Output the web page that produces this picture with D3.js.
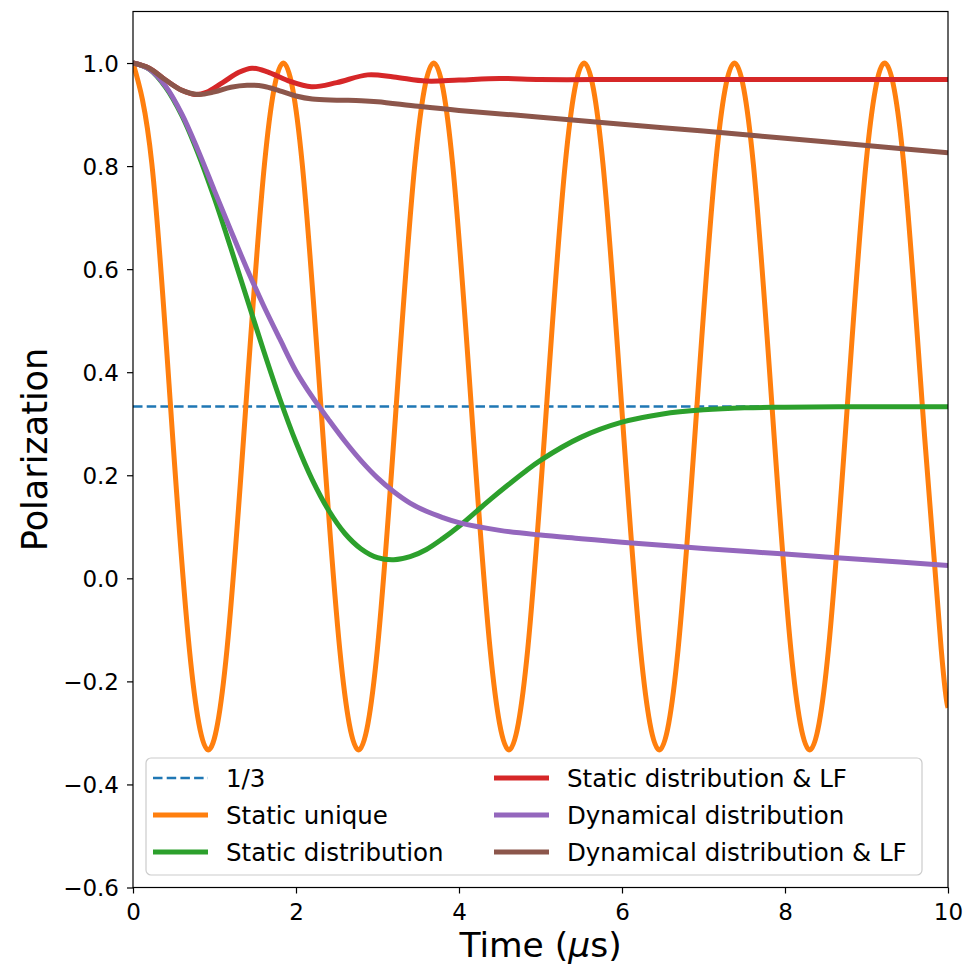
<!DOCTYPE html>
<html>
<head>
<meta charset="utf-8">
<script src="https://cdn.jsdelivr.net/npm/d3@7"></script>
<style>
  body { margin: 0; background: #fff; }
  text { font-family: "DejaVu Sans", sans-serif; fill: #000; }
</style>
</head>
<body>
<svg id="chart" width="965" height="965"></svg>
<script>
// Muon polarization curves, time in microseconds
const thirdLevel = 1 / 3;

const staticUniqueT = [
  0.000, 0.231, 0.461, 0.692, 0.923, 1.153, 1.384, 1.614,
  1.845, 2.076, 2.306, 2.537, 2.768, 2.998, 3.229, 3.459,
  3.690, 3.921, 4.151, 4.382, 4.613, 4.843, 5.074, 5.304,
  5.535, 5.766, 5.996, 6.227, 6.458, 6.688, 6.919, 7.149,
  7.380, 7.611, 7.841, 8.072, 8.303, 8.533, 8.764, 8.994,
  9.225, 9.456, 9.686, 9.917, 10.000
];
const staticUniqueP = [
  1.000, 0.805, 0.333, -0.138, -0.333, -0.138, 0.333, 0.805,
  1.000, 0.805, 0.333, -0.138, -0.333, -0.138, 0.333, 0.805,
  1.000, 0.805, 0.333, -0.138, -0.333, -0.138, 0.333, 0.805,
  1.000, 0.805, 0.333, -0.138, -0.333, -0.138, 0.333, 0.805,
  1.000, 0.805, 0.333, -0.138, -0.333, -0.138, 0.333, 0.805,
  1.000, 0.805, 0.333, -0.138, -0.251
];

const staticDistT = [
  0.0, 0.2, 0.4, 0.6, 0.8, 1.0, 1.2, 1.4, 1.6, 1.8, 2.0, 2.2, 2.4,
  2.6, 2.8, 3.0, 3.2, 3.4, 3.6, 3.8, 4.0, 4.2, 4.4, 4.6, 4.8, 5.0,
  5.5, 6.0, 6.5, 7.0, 7.5, 8.0, 9.0, 10.0
];
const staticDistP = [
  1.000, 0.988, 0.953, 0.898, 0.824, 0.737, 0.641, 0.542, 0.443, 0.349, 0.264, 0.191, 0.132,
  0.087, 0.057, 0.040, 0.036, 0.042, 0.056, 0.077, 0.101, 0.128, 0.155, 0.181, 0.206, 0.229,
  0.274, 0.303, 0.319, 0.327, 0.331, 0.332, 0.333, 0.333
];

const staticLFT = [
  0.0, 0.2, 0.4, 0.6, 0.76, 0.9, 1.1, 1.3, 1.46, 1.65, 1.9, 2.19,
  2.5, 2.88, 3.2, 3.6, 4.0, 4.5, 5.0, 6.0, 7.0, 8.0, 9.0, 10.0
];
const staticLFP = [
  1.000, 0.990, 0.967, 0.947, 0.939, 0.943, 0.962, 0.982, 0.990, 0.983, 0.966, 0.954,
  0.962, 0.977, 0.973, 0.965, 0.967, 0.970, 0.968, 0.968, 0.968, 0.968, 0.968, 0.968
];

const dynDistT = [
  0.0, 0.2, 0.4, 0.6, 0.8, 1.0, 1.2, 1.4, 1.6, 1.8, 2.0, 2.2, 2.4, 2.6, 2.8,
  3.0, 3.2, 3.4, 3.6, 3.8, 4.0, 4.5, 5.0, 5.5, 6.0, 7.0, 8.0, 9.0, 10.0
];
const dynDistP = [
  1.000, 0.988, 0.955, 0.901, 0.830, 0.752, 0.675, 0.600, 0.530, 0.465, 0.402, 0.352, 0.308, 0.266, 0.228,
  0.195, 0.168, 0.146, 0.130, 0.118, 0.108, 0.093, 0.084, 0.077, 0.070, 0.058, 0.047, 0.036, 0.025
];

const dynLFT = [
  0.0, 0.2, 0.4, 0.6, 0.8, 1.0, 1.2, 1.4, 1.6, 1.8, 2.0, 2.2,
  2.5, 2.8, 3.0, 3.5, 4.0, 5.0, 6.0, 7.0, 8.0, 9.0, 10.0
];
const dynLFP = [
  1.000, 0.990, 0.967, 0.947, 0.939, 0.944, 0.953, 0.957, 0.955, 0.946, 0.936, 0.930,
  0.928, 0.927, 0.925, 0.916, 0.908, 0.895, 0.881, 0.868, 0.854, 0.840, 0.826
];

const xTicks = [0, 2, 4, 6, 8, 10];
const yTicks = [-0.6, -0.4, -0.2, 0.0, 0.2, 0.4, 0.6, 0.8, 1.0];

const legendLabels = [
  "1/3", "Static unique", "Static distribution",
  "Static distribution & LF", "Dynamical distribution", "Dynamical distribution & LF"
];
const seriesColors = ["#1f77b4", "#ff7f0e", "#2ca02c", "#d62728", "#9467bd", "#8c564b"];

// ---- layout ----
const svg = d3.select("#chart");
const plot = { left: 133, right: 948, top: 11.5, bottom: 887.5 };

const x = d3.scaleLinear().domain([0, 10]).range([plot.left, plot.right]);
const y = d3.scaleLinear().domain([-0.6, 1.1]).range([plot.bottom, plot.top]);

svg.append("rect").attr("width", 965).attr("height", 965).attr("fill", "#fff");

svg.append("defs").append("clipPath").attr("id", "plotClip")
  .append("rect")
  .attr("x", plot.left).attr("y", plot.top)
  .attr("width", plot.right - plot.left).attr("height", plot.bottom - plot.top);

const zip = (ts, ps) => ts.map((t, i) => [t, ps[i]]);

const lineSmooth = d3.line().x(d => x(d[0])).y(d => y(d[1])).curve(d3.curveCatmullRom.alpha(0.5));
const lineWave = d3.line().x(d => x(d[0])).y(d => y(d[1])).curve(d3.curveNatural);

const g = svg.append("g").attr("clip-path", "url(#plotClip)");

// horizontal 1/3 reference level
g.append("path")
  .attr("d", d3.line().x(d => x(d[0])).y(d => y(d[1]))([[0, thirdLevel], [10, thirdLevel]]))
  .attr("fill", "none").attr("stroke", seriesColors[0])
  .attr("stroke-width", 2.4).attr("stroke-dasharray", "9.5,4.2");

const curves = [
  { data: zip(staticUniqueT, staticUniqueP), gen: lineWave, color: seriesColors[1] },
  { data: zip(staticDistT, staticDistP), gen: lineSmooth, color: seriesColors[2] },
  { data: zip(staticLFT, staticLFP), gen: lineSmooth, color: seriesColors[3] },
  { data: zip(dynDistT, dynDistP), gen: lineSmooth, color: seriesColors[4] },
  { data: zip(dynLFT, dynLFP), gen: lineSmooth, color: seriesColors[5] }
];

curves.forEach(c => {
  g.append("path")
    .attr("d", c.gen(c.data))
    .attr("fill", "none")
    .attr("stroke", c.color)
    .attr("stroke-width", 5)
    .attr("stroke-linejoin", "round")
    .attr("stroke-linecap", "butt");
});

// ---- axes ----
const xAxis = d3.axisBottom(x).tickValues(xTicks).tickSize(6).tickPadding(6)
  .tickFormat(d3.format("d"));
const yAxis = d3.axisLeft(y).tickValues(yTicks).tickSize(6).tickPadding(6)
  .tickFormat(d => d3.format(".1f")(d).replace("-", "\u2212"));

const gx = svg.append("g").attr("transform", `translate(0,${plot.bottom})`).call(xAxis);
const gy = svg.append("g").attr("transform", `translate(${plot.left},0)`).call(yAxis);

[gx, gy].forEach(a => {
  a.select(".domain").remove();
  a.selectAll(".tick line").attr("stroke", "#000").attr("stroke-width", 1.2);
  a.selectAll(".tick text").attr("font-size", 23).attr("font-family", "DejaVu Sans").attr("fill", "#000");
});
gx.selectAll(".tick text").attr("dy", null).attr("y", 32.5);
gy.selectAll(".tick text").attr("dy", null).attr("x", -14).attr("y", 8.4);

// frame
svg.append("rect")
  .attr("x", plot.left).attr("y", plot.top)
  .attr("width", plot.right - plot.left).attr("height", plot.bottom - plot.top)
  .attr("fill", "none").attr("stroke", "#000").attr("stroke-width", 1.2);

// axis titles
const xTitle = svg.append("text")
  .attr("x", (plot.left + plot.right) / 2).attr("y", 957)
  .attr("text-anchor", "middle").attr("font-size", 34.5);
xTitle.append("tspan").text("Time (");
xTitle.append("tspan").attr("font-style", "italic").text("\u03bc");
xTitle.append("tspan").text("s)");

svg.append("text")
  .attr("transform", `translate(47,${(plot.top + plot.bottom) / 2}) rotate(-90)`)
  .attr("text-anchor", "middle").attr("font-size", 35)
  .text("Polarization");

// ---- legend ----
const legend = svg.append("g");
legend.append("rect")
  .attr("x", 146).attr("y", 758).attr("width", 776).attr("height", 117)
  .attr("rx", 5).attr("ry", 5)
  .attr("fill", "#fff").attr("fill-opacity", 0.8)
  .attr("stroke", "#cccccc").attr("stroke-width", 1.2);

const colX = [153, 494];
const rowY = [778, 815, 852];
legendLabels.forEach((label, i) => {
  const col = Math.floor(i / 3), row = i % 3;
  const lx = colX[col], ly = rowY[row];
  const item = legend.append("g");
  item.append("line")
    .attr("x1", lx).attr("x2", lx + 55).attr("y1", ly).attr("y2", ly)
    .attr("stroke", seriesColors[i])
    .attr("stroke-width", i === 0 ? 2.4 : 5)
    .attr("stroke-dasharray", i === 0 ? "9.5,4.2" : null);
  item.append("text")
    .attr("x", lx + 73).attr("y", ly + 8.6)
    .attr("font-size", 24.5)
    .text(label);
});
</script>
</body>
</html>
